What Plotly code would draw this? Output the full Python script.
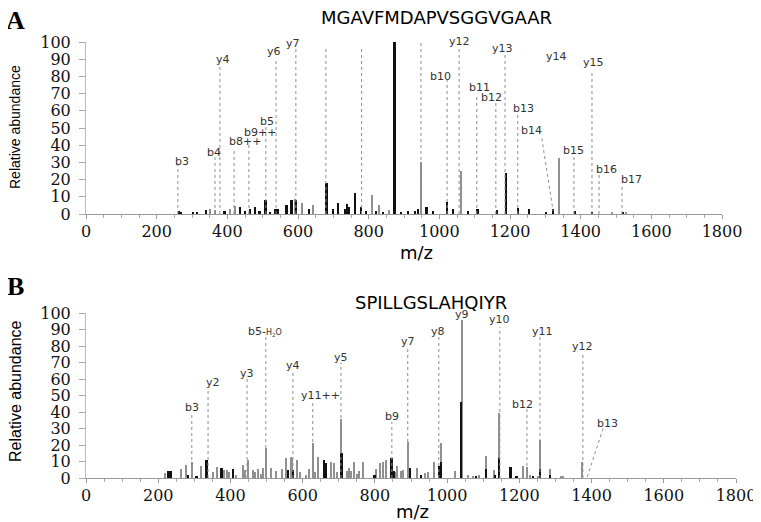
import plotly.graph_objects as go

# ---- Panel A: MGAVFMDAPVSGGVGAAR ----
a_black_mz = [263, 270, 303, 314, 341, 393, 436, 450, 464, 478, 492, 509, 521, 535, 543,
              568, 582, 596, 631, 681, 699, 713, 733, 739, 745, 761, 780, 794, 821, 841,
              874, 893, 911, 931, 940, 964, 982, 1022, 1039, 1081, 1109, 1163, 1189, 1223,
              1254, 1302, 1322, 1384, 1432, 1520]
a_black_int = [2, 1.3, 1, 1.2, 2.3, 2, 4, 1.5, 3, 4, 2, 8, 1, 3, 3,
               5.5, 8, 8, 3, 18, 3, 6.3, 3, 5.8, 4, 12, 4, 2, 2, 1,
               100, 1, 2, 2, 3, 4, 1.5, 7, 3, 2, 3, 2.5, 24, 3.5,
               3, 1, 3, 2, 1, 1]
a_gray_mz = [351, 365, 408, 422, 585, 592, 613, 643, 809, 830, 858, 950, 1061, 1339, 1490, 1530]
a_gray_int = [3, 2.5, 3, 4.5, 8, 8.5, 6.5, 5, 11, 5, 2.5, 30.5, 25, 32.6, 0.7, 0.8]

a_line_mz = [260, 365, 379, 419, 461, 509, 538, 594, 679, 780, 948, 1022, 1056, 1106,
             1160, 1186, 1222, 1381, 1432, 1452, 1517]
a_line_top = [29, 33, 85.5, 38, 41, 50.5, 89.5, 96, 96.5, 97, 100, 78, 96.5, 68,
              65, 93.5, 57.5, 35, 82.5, 22.7, 17]
a_slant_mz = [1290, 1322]
a_slant_int = [44, 1.7]

a_lab_text = ["y4", "y6", "y7", "y8", "y9", "y10", "y11", "y12", "y13", "y14", "y15",
              "b10", "b11", "b12", "b13", "b14", "b15", "b16", "b17", "b3", "b4",
              "b8++", "b9++", "b5"]
a_lab_mz = [388, 532, 586, 671, 775, 869, 948, 1056, 1180, 1333, 1435,
            1002, 1115, 1149, 1237, 1262, 1381, 1474, 1545, 272, 362,
            450, 492, 512]
a_lab_y = [90.1, 94.2, 99.4, 100.6, 101.7, 109.3, 105.2, 100, 96.5, 91.3, 87.8,
           79.7, 73.8, 68, 61.6, 48.3, 37.2, 25.6, 20.3, 30.8, 35.5,
           41.9, 47.1, 53.5]

# ---- Panel B: SPILLGSLAHQIYR ----
b_gray_mz = [219, 265, 277, 293, 320, 351, 362, 382, 390, 397, 415, 434, 441, 448, 462,
             468, 477, 486, 491, 498, 514, 526, 542, 554, 567, 572, 584, 593, 609, 618,
             628, 634, 643, 680, 687, 696, 708, 722, 729, 735, 742, 750, 756, 767, 805,
             814, 823, 830, 856, 862, 874, 878, 891, 916, 939, 947, 964, 985, 1022, 1041,
             1058, 1072, 1089, 1108, 1130, 1144, 1211, 1221, 1230, 1252, 1257, 1285,
             1315, 1321, 1375]
b_gray_int = [3, 5.6, 8, 10, 7, 3.8, 6.9, 5, 4.6, 3.8, 2, 8, 5, 11, 4.6,
              3.8, 5.5, 2.5, 6, 18, 6, 4, 5.5, 12, 13, 12, 11, 3.8, 2, 5.5,
              21, 3.8, 13, 9.7, 9, 3.8, 36, 4, 6, 4, 10, 2.5, 4, 10, 5.5,
              9, 9.7, 11, 3.8, 7, 4, 5, 22, 6, 3, 3.4, 10, 21, 4, 96,
              2, 1.4, 2, 13.5, 4.6, 39.6, 7, 6.7, 2, 1.4, 23, 5.5,
              1.4, 1, 10]
b_black_mz = [228, 235, 283, 307, 334, 376, 408, 560, 574, 659, 665, 708, 800, 847, 853,
              897, 929, 980, 983, 1040, 1080, 1108, 1133, 1144, 1176, 1193, 1238, 1257, 1285]
b_black_int = [4, 4, 2, 1.5, 10.7, 6, 5.5, 5, 5, 11, 9, 15, 2, 12, 4,
               6, 2, 7, 10, 46, 1.4, 5.5, 2, 12, 6.7, 1.4, 1, 5.5, 2]

b_line_mz = [293, 338, 446, 498, 573, 628, 706, 847, 891, 977, 1146, 1221, 1257, 1376]
b_line_top = [40, 55, 60.6, 85.5, 64, 46, 70, 34, 79, 85.5, 91.5, 42, 86, 76]
b_slant_mz = [1432, 1387]
b_slant_int = [30, 0]

b_lab_text = ["b5-<span style='font-size:8px'>H<sub>2</sub>O</span>", "y2", "y3", "y4", "y5",
              "y11++", "b3", "y7", "y8", "y9", "y10", "y11", "y12", "b9", "b12", "b13"]
b_lab_mz = [496, 352, 446, 573, 706, 648, 294, 892, 975, 1041, 1146, 1265, 1376, 847, 1210, 1443]
b_lab_y = [88.5, 57.6, 63.6, 67.9, 73.3, 49.7, 43, 83, 89, 98.8, 95.8, 89, 80, 37, 44.8, 33.3]

x_ticks = [0, 200, 400, 600, 800, 1000, 1200, 1400, 1600, 1800]
y_ticks = [0, 10, 20, 30, 40, 50, 60, 70, 80, 90, 100]

# page body has an 8px margin, so the figure is drawn 8px in from the corner
W, H, OFF = 753, 514, 8


def px(x, y):
    return (x - OFF) / W, 1 - (y - OFF) / H


def stems(mz, top):
    xs, ys = [], []
    for m, t in zip(mz, top):
        xs += [m, m, None]
        ys += [0, t, None]
    return xs, ys


GRAY = "#909090"
BLACK = "#111111"
DOT = "#8c8c8c"

fig = go.Figure()

panels = [
    ("x", "y", a_line_mz, a_line_top, a_slant_mz, a_slant_int,
     a_gray_mz, a_gray_int, a_black_mz, a_black_int),
    ("x2", "y2", b_line_mz, b_line_top, b_slant_mz, b_slant_int,
     b_gray_mz, b_gray_int, b_black_mz, b_black_int),
]

for xa, ya, lmz, ltop, smz, sint, gmz, gint, kmz, kint in panels:
    lx, ly = stems(lmz, ltop)
    fig.add_trace(go.Scatter(x=lx, y=ly, mode="lines", xaxis=xa, yaxis=ya,
                             line=dict(color=DOT, width=1, dash="dot"),
                             hoverinfo="skip", showlegend=False))
    fig.add_trace(go.Scatter(x=smz, y=sint, mode="lines", xaxis=xa, yaxis=ya,
                             line=dict(color=DOT, width=1, dash="dot"),
                             hoverinfo="skip", showlegend=False))
    fig.add_trace(go.Bar(x=gmz, y=gint, width=4, xaxis=xa, yaxis=ya,
                         marker=dict(color=GRAY, line=dict(width=0)), showlegend=False))
    fig.add_trace(go.Bar(x=kmz, y=kint, width=5, xaxis=xa, yaxis=ya,
                         marker=dict(color=BLACK, line=dict(width=0)), showlegend=False))

ann = []
for txt, m, v in zip(a_lab_text, a_lab_mz, a_lab_y):
    ann.append(dict(x=m, y=v, xref="x", yref="y", text=txt, showarrow=False,
                    font=dict(family="DejaVu Sans", size=11, color="#333")))
for txt, m, v in zip(b_lab_text, b_lab_mz, b_lab_y):
    ann.append(dict(x=m, y=v, xref="x2", yref="y2", text=txt, showarrow=False,
                    font=dict(family="DejaVu Sans", size=11, color="#333")))


def paper_text(x, y, text, font, angle=0):
    fx, fy = px(x, y)
    return dict(x=fx, y=fy, xref="paper", yref="paper", text=text, showarrow=False,
                xanchor="center", yanchor="middle", textangle=angle, font=font)


letter_font = dict(family="Liberation Serif", size=26, color="black")
title_font = dict(family="DejaVu Sans", size=18, color="black")
mz_font = dict(family="DejaVu Sans", size=18, color="black")

ann += [
    paper_text(16, 20, "<b>A</b>", letter_font),
    paper_text(16, 286, "<b>B</b>", letter_font),
    paper_text(436, 17, "MGAVFMDAPVSGGVGAAR", title_font),
    paper_text(431, 302, "SPILLGSLAHQIYR", title_font),
    paper_text(15, 127, "Relative abundance",
               dict(family="Liberation Sans", size=14, color="black"), -90),
    paper_text(15, 391, "Relative abundance",
               dict(family="Liberation Sans", size=16, color="black"), -90),
    paper_text(417, 252, "m/z", mz_font),
    paper_text(412, 511, "m/z", mz_font),
]

tick_font = dict(family="DejaVu Serif", size=16, color="#111")

xcommon = dict(range=[0, 1800], tickvals=x_ticks, ticks="outside", ticklen=4,
               tickcolor="#999", showline=True, linecolor="#999", linewidth=1,
               showgrid=False, zeroline=False, tickfont=tick_font, automargin=False,
               ticklabelstandoff=-1,
               minor=dict(dtick=50, ticks="outside", ticklen=3, tickcolor="#aaa"))
ycommon = dict(range=[0, 100], tickvals=y_ticks, ticks="outside", ticklen=6,
               tickcolor="#aaa", showline=True, linecolor="#bbb", linewidth=1,
               showgrid=False, zeroline=False, tickfont=tick_font, automargin=False,
               ticklabelstandoff=5)

a_x0, a_y0 = px(86, 214)
a_x1, a_y1 = px(722, 42)
b_x0, b_y0 = px(86, 478)
b_x1, b_y1 = px(736, 313)

fig.update_layout(
    width=W, height=H,
    margin=dict(l=0, r=0, t=0, b=0),
    plot_bgcolor="white", paper_bgcolor="white",
    barmode="overlay", bargap=0,
    xaxis=dict(xcommon, domain=[a_x0, a_x1], anchor="y"),
    yaxis=dict(ycommon, domain=[a_y0, a_y1], anchor="x"),
    xaxis2=dict(xcommon, domain=[b_x0, b_x1], anchor="y2"),
    yaxis2=dict(ycommon, domain=[b_y0, b_y1], anchor="x2"),
    annotations=ann,
)

fig.write_html("out.html")
